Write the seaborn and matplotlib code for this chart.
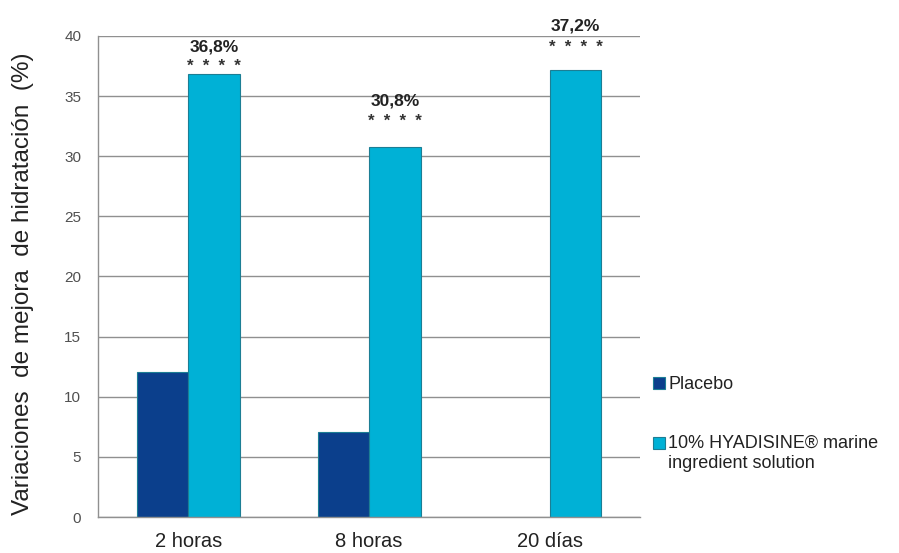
import matplotlib
matplotlib.use("Agg")
import matplotlib.pyplot as plt
from matplotlib.patches import Rectangle
from matplotlib.legend_handler import HandlerPatch
import seaborn as sns
import pandas as pd
import numpy as np

# Hydration improvement data
categories = ["2 horas", "8 horas", "20 días"]
series_names = ["Placebo", "10% HYADISINE\u00ae marine\ningredient solution"]
placebo_values = [12.1, 7.1, np.nan]
hyadisine_values = [36.8, 30.8, 37.2]
value_labels = ["36,8%", "30,8%", "37,2%"]
significance = ["*  *  *  *", "*  *  *  *", "*  *  *  *"]
y_ticks = [0, 5, 10, 15, 20, 25, 30, 35, 40]

df = pd.DataFrame({
    "tiempo": categories * 2,
    "serie": [series_names[0]] * 3 + [series_names[1]] * 3,
    "valor": placebo_values + hyadisine_values,
})

sns.set_style("white")
plt.rcParams["font.family"] = ["Liberation Sans", "DejaVu Sans"]

fig = plt.figure(figsize=(8.99, 5.53), dpi=100)
ax = fig.add_axes([0.109, 0.065, 0.603, 0.870])

palette = {series_names[0]: "#0B3F8C", series_names[1]: "#00B1D6"}
sns.barplot(data=df, x="tiempo", y="valor", hue="serie", order=categories,
            hue_order=series_names, palette=palette, width=0.57,
            edgecolor="#1C7E94", linewidth=0.8, saturation=1, ax=ax,
            legend=True)

ax.set_ylim(0, 40)
ax.set_xlim(-0.5, 2.5)
ax.set_yticks(y_ticks)
ax.set_yticklabels([str(t) for t in y_ticks], fontsize=11, color="#505050")
ax.yaxis.grid(True, color="#909090", linewidth=1.0)
ax.set_axisbelow(True)
ax.set_xlabel("")
ax.set_ylabel("Variaciones  de mejora  de hidratación  (%)", fontsize=17.5,
              color="#222222")
ax.yaxis.set_label_coords(-0.118, 0.485)
ax.tick_params(axis="x", labelsize=14.5, colors="#222222", length=0, pad=11)
ax.set_xticks([-0.5, 0.5, 1.5, 2.5], minor=True)
ax.tick_params(axis="x", which="minor", length=6, color="#909090", direction="out")
ax.tick_params(axis="y", length=4, color="#909090", direction="out", pad=8)
for side in ["top", "right"]:
    ax.spines[side].set_visible(False)
for side in ["left", "bottom"]:
    ax.spines[side].set_color("#909090")
    ax.spines[side].set_linewidth(1.0)

# Value and significance labels above the treatment bars
hyad_bars = ax.containers[1]
label_offsets = [27, 46, 44]
star_offsets = [8, 25, 22]
for bar, val, lab, sig, lo, so in zip(hyad_bars, hyadisine_values, value_labels,
                                      significance, label_offsets, star_offsets):
    xc = bar.get_x() + bar.get_width() / 2
    ax.annotate(lab, (xc, val), xytext=(0, lo), textcoords="offset pixels",
                ha="center", va="center", fontsize=12.5, fontweight="bold",
                color="#222222", annotation_clip=False)
    ax.annotate(sig, (xc, val), xytext=(0, so), textcoords="offset pixels",
                ha="center", va="center", fontsize=12, fontweight="bold",
                color="#333333", annotation_clip=False)


class SquareHandler(HandlerPatch):
    """Square legend key, optionally raised to sit beside the first text line."""

    def __init__(self, raise_lines=0.0, **kw):
        super().__init__(**kw)
        self.raise_lines = raise_lines

    def create_artists(self, legend, orig_handle, xdescent, ydescent,
                       width, height, fontsize, trans):
        shift = self.raise_lines * 1.2 * fontsize
        p = Rectangle((-xdescent, -ydescent + shift), width, height,
                      facecolor=orig_handle.get_facecolor(),
                      edgecolor=orig_handle.get_edgecolor(),
                      linewidth=0.8, transform=trans)
        return [p]


handles, labels = ax.get_legend_handles_labels()
hmap = {handles[0]: SquareHandler(0.0), handles[1]: SquareHandler(0.5)}
ax.legend(handles, labels, loc="upper left", bbox_to_anchor=(0.7264, 0.3198),
          bbox_transform=fig.transFigure, frameon=False, fontsize=13,
          handlelength=0.66, handleheight=0.66, handletextpad=0.17,
          borderpad=0, borderaxespad=0, labelspacing=2.32,
          labelcolor="#222222", handler_map=hmap)

fig.savefig("out.png", dpi=100)
